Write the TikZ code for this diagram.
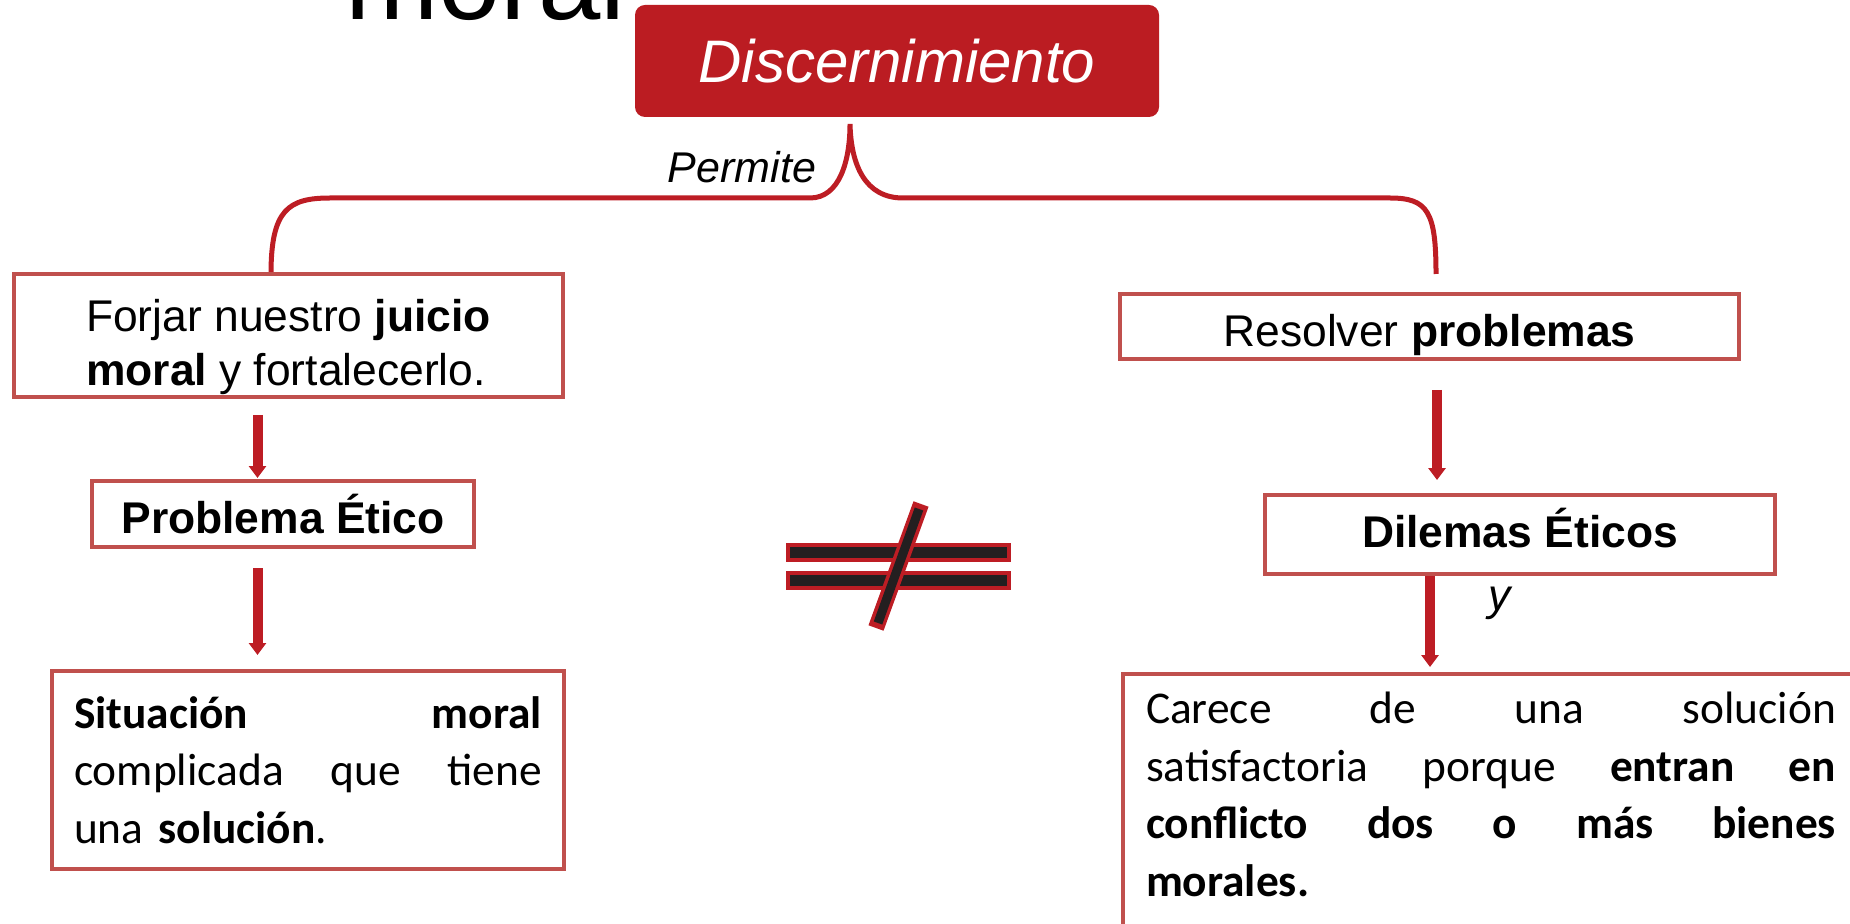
\documentclass[tikz,border=0pt]{standalone}
\usepackage{fontspec}
\setmainfont{Liberation Sans}
\newfontfamily\calibrifont{Carlito}
\usetikzlibrary{arrows.meta}
\setlength{\parindent}{0pt}

\definecolor{DiscRed}{RGB}{187,28,34}
\definecolor{FrameRed}{RGB}{192,80,77}
\definecolor{LinkRed}{RGB}{189,29,36}
\definecolor{SignDark}{RGB}{35,31,32}

\newcommand{\bodysize}{\fontsize{22.2}{26.8}\selectfont}
\newcommand{\notesize}{\fontsize{22.7}{28.75}\selectfont}

\begin{document}
\begin{tikzpicture}[x=0.5pt, y=-0.5pt,
    conceptbox/.style={draw=FrameRed, line width=2pt, fill=white, inner sep=0pt, font=\bodysize},
    flowarrow/.style={draw=LinkRed, line width=5pt, -{Triangle[width=8.5pt,length=6pt]}},
    bracestroke/.style={draw=LinkRed, line width=2.5pt},
    neqred/.style={draw=LinkRed},
    neqdark/.style={draw=SignDark}]
        \useasboundingbox (0,0) rectangle (1850,924);
        \clip (0,0) rectangle (1850,924);

        % Title fragment behind the header
        \node[anchor=base west, inner sep=0pt, font=\fontsize{56}{60}\selectfont] (titlefrag) at (345,20) {moral};

        % Header
        \node[fill=DiscRed, rounded corners=5pt, minimum width=262pt, minimum height=56pt, inner sep=0pt, text=white, font=\fontsize{30}{36}\selectfont\itshape] (disc) at (897,61) {Discernimiento};

        % Brace
        \coordinate (bracetip) at (850,124);
        \coordinate (braceleft) at (271,274);
        \coordinate (braceright) at (1436,274);
        \draw[bracestroke] (braceleft) .. controls (271,210) and (288,198) .. (330,198) -- (810,198)
            .. controls (840,198) and (850,160) .. (bracetip)
            .. controls (851,165) and (865,198) .. (903,198) -- (1390,198)
            .. controls (1428,198) and (1436,212) .. (braceright);
        \node[font=\fontsize{21.5}{26}\selectfont\itshape] (permite) at (742,167) {Permite};

        % Left column
        \node[conceptbox, minimum width=274.5pt, minimum height=61.5pt, align=left] (forjar) at (288.5,336) {\rule{0pt}{27pt}Forjar nuestro \textbf{juicio}\\\textbf{moral} y fortalecerlo.};
        \node[conceptbox, minimum width=191pt, minimum height=33pt] (problema) at (283,514) {\textbf{Problema Ético}};
        \node[conceptbox, minimum width=256pt, minimum height=99pt, text width=234pt, align=left, font=\calibrifont\notesize] (situacion) at (308,770) {\textbf{Situación}\hfill\textbf{moral}\\complicada\hfill que\hfill tiene\\una \textbf{solución}.};

        \coordinate (colA) at (257.5,0);
        \draw[flowarrow, shorten <=7.75pt, shorten >=0.5pt] (forjar.south -| colA) -- (problema.north -| colA);
        \draw[flowarrow, shorten <=9.5pt, shorten >=7pt] (problema.south -| colA) -- (situacion.north -| colA);

        % Not-equal sign
        \foreach \bary in {552,580} {
            \draw[neqred, line width=9.5pt] (786,\bary) -- (1011,\bary);
            \draw[neqdark, line width=5.5pt] (790,\bary) -- (1007,\bary);
        }
        \draw[neqred, line width=8pt] (921,504) -- (876,628);
        \draw[neqdark, line width=4.5pt] (919,509) -- (878,623);

        % Right column
        \node[conceptbox, minimum width=309.5pt, minimum height=32.5pt] (resolver) at (1429.5,326.5) {\rule{0pt}{25pt}Resolver \textbf{problemas}};
        \node[conceptbox, minimum width=255pt, minimum height=39.5pt] (dilemas) at (1520,534.5) {\rule[-6.5pt]{0pt}{6.5pt}\textbf{Dilemas Éticos}};
        \node[conceptbox, anchor=north west, inner xsep=11.5pt, inner ysep=9pt, font=\calibrifont\notesize] (carece) at (1121,672) {\parbox[t][150pt][t]{345pt}{Carece\hfill de\hfill una\hfill solución\\satisfactoria\hfill porque\hfill \textbf{entran}\hfill \textbf{en}\\\textbf{conflicto}\hfill \textbf{dos}\hfill \textbf{o}\hfill \textbf{más}\hfill \textbf{bienes}\\\textbf{morales.}}};

        \coordinate (colB) at (1437,0);
        \coordinate (colC) at (1430,0);
        \draw[flowarrow, shorten <=14.5pt, shorten >=6.5pt] (resolver.south -| colB) -- (dilemas.north -| colB);
        \draw[flowarrow, shorten >=2.5pt] (dilemas.south -| colC) -- (carece.north -| colC);
        \node[font=\fontsize{22.2}{26}\selectfont\itshape] (ylabel) at (1500,603) {y};
    \end{tikzpicture}
\end{document}
